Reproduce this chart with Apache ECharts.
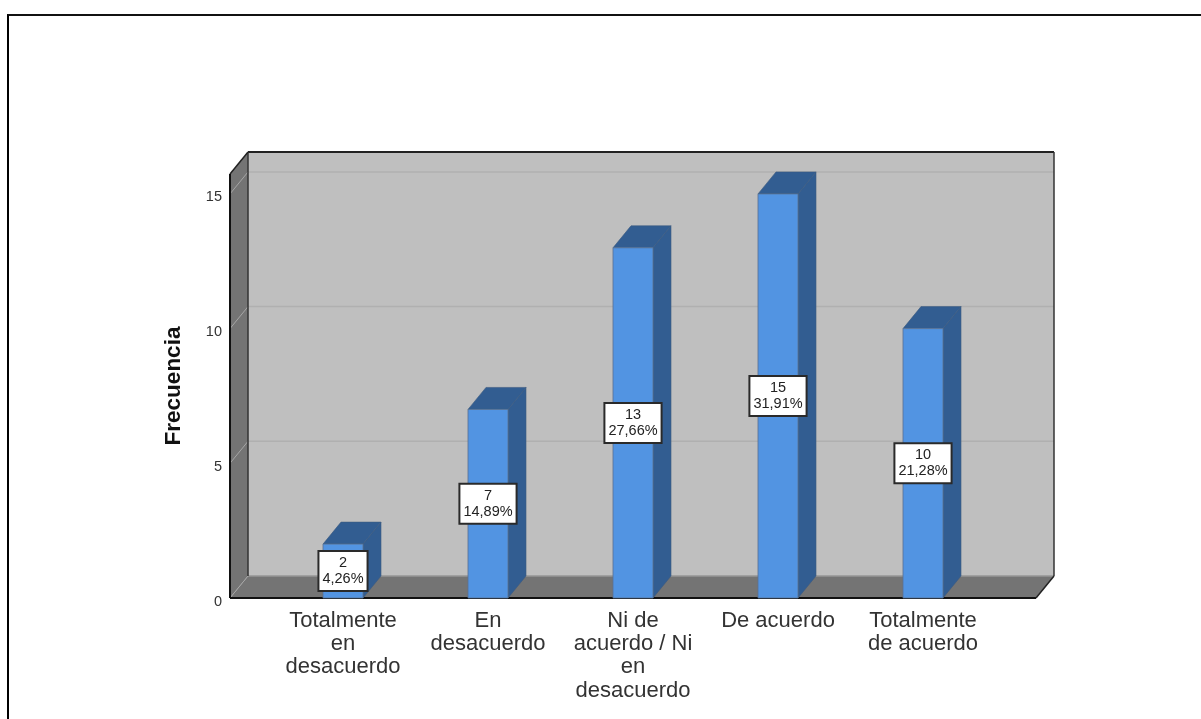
<!DOCTYPE html>
<html>
<head>
<meta charset="utf-8">
<style>
html,body{margin:0;padding:0;background:#fff;overflow:hidden}
#frame{position:absolute;left:7px;top:14px;width:1194px;height:705px;border-left:2px solid #000;border-top:2px solid #111;box-sizing:border-box}
#c{position:absolute;left:0;top:0;width:1201px;height:719px}
</style>
<script src="https://cdn.jsdelivr.net/npm/echarts@6/dist/echarts.min.js"></script>
</head>
<body>
<div id="frame"></div>
<div id="c"></div>
<script>
const categories = ['Totalmente\nen\ndesacuerdo', 'En\ndesacuerdo', 'Ni de\nacuerdo / Ni\nen\ndesacuerdo', 'De acuerdo', 'Totalmente\nde acuerdo'];
const counts = [2, 7, 13, 15, 10];
const percents = ['4,26%', '14,89%', '27,66%', '31,91%', '21,28%'];
const yTicks = [0, 5, 10, 15];
const yTop = 15.74;

const depthX = 18, depthY = 22, sideMargin = 40.5, barWidthRatio = 0.276;
const FONT = '"Liberation Sans", Arial, sans-serif';

function poly(points, fill, stroke, lw) {
  return { type: 'polygon', shape: { points }, style: { fill, stroke: stroke || 'none', lineWidth: lw || 0 } };
}
function seg(a, b, stroke, lw) {
  return { type: 'line', shape: { x1: a[0], y1: a[1], x2: b[0], y2: b[1] }, style: { stroke, lineWidth: lw, fill: 'none' } };
}

function renderWalls(params, api) {
  const cs = params.coordSys;
  const L = cs.x - sideMargin, R = cs.x + cs.width + sideMargin;
  const T = cs.y, B = cs.y + cs.height;
  const ch = [];
  ch.push(poly([[L + depthX, T - depthY], [R + depthX, T - depthY], [R + depthX, B - depthY], [L + depthX, B - depthY]], '#bfbfbf'));
  ch.push(poly([[L, T], [L + depthX, T - depthY], [L + depthX, B - depthY], [L, B]], '#747474'));
  ch.push(poly([[L, B], [L + depthX, B - depthY], [R + depthX, B - depthY], [R, B]], '#747474'));
  yTicks.forEach(function (t) {
    const y = api.coord([0, t])[1];
    ch.push(seg([L, y], [L + depthX, y - depthY], '#a6a6a6', 1));
    ch.push(seg([L + depthX, y - depthY], [R + depthX, y - depthY], t === 0 ? '#969696' : '#b0b0b0', 1.5));
  });
  ch.push(seg([L + depthX, T - depthY], [R + depthX, T - depthY], '#222', 2));
  ch.push(seg([L + depthX, T - depthY], [L + depthX, B - depthY], '#333', 1.5));
  ch.push(seg([R + depthX, T - depthY], [R + depthX, B - depthY], '#333', 1.5));
  ch.push(seg([L, T], [L + depthX, T - depthY], '#222', 1.5));
  ch.push(seg([L, T], [L, B], '#111', 2));
  ch.push(seg([L, B], [R, B], '#111', 2));
  ch.push(seg([R, B], [R + depthX, B - depthY], '#222', 1.5));
  return { type: 'group', children: ch };
}

function renderBar(params, api) {
  const p = api.coord([api.value(0), api.value(1)]);
  const base = api.coord([api.value(0), 0]);
  const w = api.size([1, 0])[0] * barWidthRatio;
  const l = p[0] - w / 2, r = p[0] + w / 2, t = p[1], b = base[1];
  const edge = '#3c5a80';
  return {
    type: 'group',
    children: [
      poly([[r, b], [r + depthX, b - depthY], [r + depthX, t - depthY], [r, t]], '#325d91', edge, 0.6),
      poly([[l, t], [l + depthX, t - depthY], [r + depthX, t - depthY], [r, t]], '#325d91', edge, 0.6),
      poly([[l, t], [r, t], [r, b], [l, b]], '#5294e2', '#5a7190', 0.8)
    ]
  };
}

function renderLabel(params, api) {
  const i = params.dataIndex;
  const p = api.coord([api.value(0), api.value(1) / 2]);
  return {
    type: 'text',
    x: p[0], y: p[1],
    style: {
      text: counts[i] + '\n' + percents[i],
      font: '14.5px ' + FONT,
      lineHeight: 16,
      fill: '#222',
      align: 'center', verticalAlign: 'middle',
      backgroundColor: '#fff',
      borderColor: '#2a2a2a', borderWidth: 2,
      padding: [3, 3, 3, 3]
    }
  };
}

const chart = echarts.init(document.getElementById('c'), null, { renderer: 'canvas' });
chart.setOption({
  animation: false,
  backgroundColor: 'transparent',
  grid: { left: 270.5, right: 205.5, top: 174, bottom: 121, containLabel: false },
  xAxis: {
    type: 'category',
    data: categories,
    axisLine: { show: false },
    axisTick: { show: false },
    axisLabel: { color: '#333', fontFamily: FONT, fontSize: 22, lineHeight: 23.3, margin: 11, interval: 0 }
  },
  yAxis: {
    type: 'value',
    min: 0, max: yTop, interval: 5,
    offset: sideMargin,
    name: 'Frecuencia',
    nameLocation: 'middle',
    nameGap: 45,
    nameTextStyle: { color: '#111', fontFamily: FONT, fontSize: 22.5, fontWeight: 'bold' },
    axisLine: { show: false },
    axisTick: { show: false },
    splitLine: { show: false },
    axisLabel: { color: '#333', fontFamily: FONT, fontSize: 14.5, margin: 8, verticalAlign: 'top', lineHeight: 7, showMaxLabel: false }
  },
  series: [
    { type: 'custom', z: 1, silent: true, data: [[0, 0]], renderItem: renderWalls, encode: { x: 0, y: 1 } },
    { type: 'custom', z: 2, silent: true, data: counts.map((v, i) => [i, v]), renderItem: renderBar, encode: { x: 0, y: 1 } },
    { type: 'custom', z: 3, silent: true, data: counts.map((v, i) => [i, v]), renderItem: renderLabel, encode: { x: 0, y: 1 } }
  ]
});
</script>
</body>
</html>
